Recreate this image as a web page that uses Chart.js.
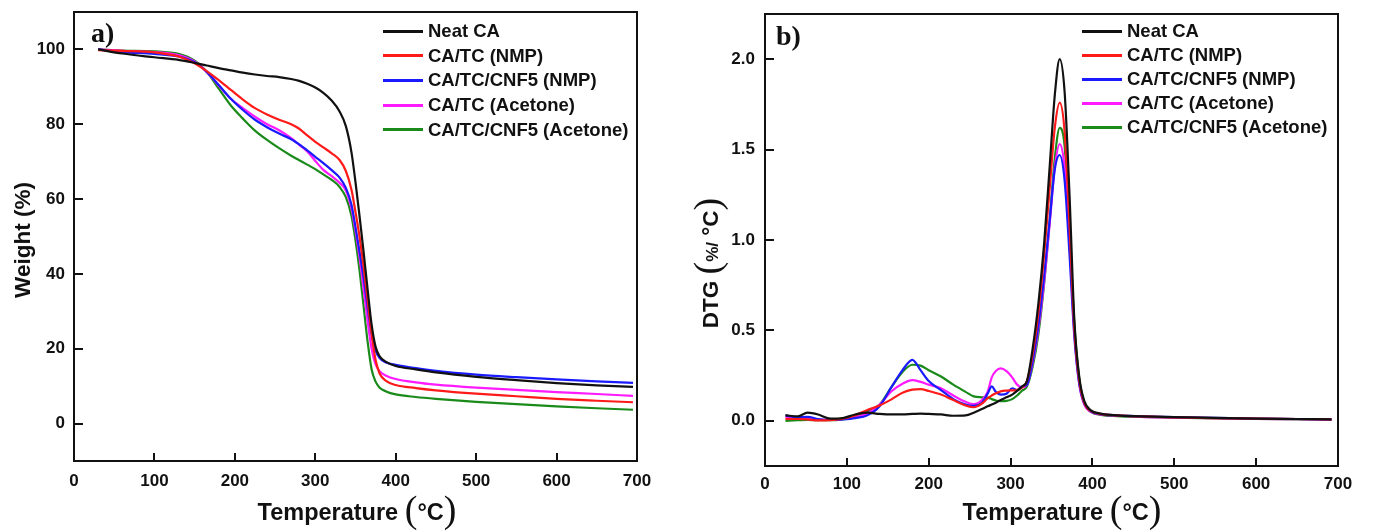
<!DOCTYPE html>
<html>
<head>
<meta charset="utf-8">
<script src="https://cdn.jsdelivr.net/npm/chart.js@4.4.1/dist/chart.umd.min.js"></script>
<style>
  body { margin: 0; background: #fff; width: 1375px; height: 532px; position: relative; overflow: hidden; font-family: 'Liberation Sans', Arial, sans-serif; color: #111; }
  canvas { position: absolute; top: 0; }
  .ttl { position: absolute; font-weight: bold; font-size: 23.5px; line-height: 30px; text-align: center; white-space: nowrap; }
  .rot { transform: rotate(-90deg); font-size: 22.5px; }
  .pr { font-family: 'Liberation Serif', serif; font-weight: normal; font-size: 38px; line-height: 0; position: relative; top: 2px; }
  .sm { font-size: 17px; }
  .pnl { position: absolute; font-family: 'Liberation Serif', serif; font-weight: bold; font-size: 28px; line-height: 28px; }
  .leg { position: absolute; font-weight: bold; font-size: 18.5px; }
  .row { position: absolute; left: 0; height: 24px; white-space: nowrap; }
  .row i { position: absolute; left: 0; top: 10.5px; width: 40px; height: 3px; }
  .row span { position: absolute; left: 45px; top: 0; line-height: 24px; }
</style>
</head>
<body>
<canvas id="tga" width="690" height="532" style="left:0"></canvas>
<canvas id="dtg" width="685" height="532" style="left:690px"></canvas>

<div class="pnl" style="left:91px;top:19px">a)</div>
<div class="pnl" style="left:776px;top:22px">b)</div>

<div class="ttl" style="left:0;width:714px;top:497px">Temperature <span class="pr">(</span>°C<span class="pr">)</span></div>
<div class="ttl" style="left:862px;width:400px;top:497px">Temperature <span class="pr">(</span>°C<span class="pr">)</span></div>
<div class="ttl rot" style="left:-77px;width:200px;top:225px">Weight (%)</div>
<div class="ttl rot" style="left:612px;width:200px;top:247px">DTG <span class="pr">(</span><span class="sm">%/</span> °C<span class="pr">)</span></div>

<div class="leg" id="legA" style="left:383px;top:19px"></div>
<div class="leg" id="legB" style="left:1082px;top:19px"></div>

<script>
// series
const seriesNames = ['Neat CA', 'CA/TC (NMP)', 'CA/TC/CNF5 (NMP)', 'CA/TC (Acetone)', 'CA/TC/CNF5 (Acetone)'];
const seriesColors = ['#111111', '#ff1a1a', '#1a1aff', '#ff1aff', '#1a8a1a'];

// a) TGA - temperature (°C) and weight (%)
const tgaTemp = [30, 60, 100, 130, 150, 165, 180, 195, 210, 225, 240, 255, 270, 280, 290, 300, 310, 320, 330, 338,
  345, 350, 355, 360, 365, 370, 375, 380, 388, 400, 425, 450, 500, 550, 600, 650, 695];
const tgaNeat = [100, 98.9, 97.9, 97.2, 96.4, 95.7, 95.0, 94.4, 93.8, 93.3, 92.9, 92.6, 92.1, 91.6, 90.8, 89.8, 88.4, 86.4, 83.5, 79.5,
  72.5, 64.5, 55.5, 46, 36, 26.5, 20.5, 18.0, 16.5, 15.4, 14.5, 13.7, 12.5, 11.6, 10.8, 10.2, 9.8];
const tgaTcNmp = [99.8, 99.6, 99.2, 98.1, 96.3, 94.2, 91.8, 89.2, 86.6, 84.3, 82.6, 81.2, 80.0, 78.8, 77.0, 75.3, 73.8, 72.3, 70.5, 67.5,
  62.5, 56.5, 50, 42, 33, 24, 17, 13.4, 11.4, 10.3, 9.5, 8.9, 8.0, 7.3, 6.6, 6.1, 5.7];
const tgaCnfNmp = [100, 99.3, 98.8, 98.1, 96.6, 94.0, 90.5, 86.8, 83.8, 81.2, 79.2, 77.5, 76.0, 74.6, 73.0, 71.3, 69.6, 67.8, 65.8, 63.0,
  58.5, 52.5, 46, 39, 31, 24, 19.5, 17.5, 16.3, 15.7, 14.8, 14.1, 13.1, 12.4, 11.8, 11.3, 10.9];
const tgaTcAce = [100, 99.6, 99.3, 98.5, 96.8, 94.0, 90.3, 86.8, 84.3, 82.0, 80.0, 78.4, 76.3, 74.5, 72.7, 70.2, 67.8, 66.2, 64.4, 62.3,
  57.5, 51.5, 44.5, 36, 27.5, 20, 15.8, 14.0, 12.8, 11.9, 11.0, 10.4, 9.6, 9.0, 8.4, 7.9, 7.4];
const tgaCnfAce = [100, 99.7, 99.5, 98.8, 97.0, 94.0, 89.5, 85.0, 81.5, 78.3, 75.8, 73.6, 71.6, 70.4, 69.2, 68.0, 66.6, 65.2, 63.3, 60.5,
  55.5, 49, 41, 31.5, 22, 14.5, 11.2, 9.6, 8.6, 7.8, 7.1, 6.6, 5.8, 5.2, 4.6, 4.1, 3.7];

// b) DTG - temperature (°C) and %/°C
const dtgTemp = [25, 40, 52, 65, 80, 95, 110, 125, 140, 155, 168, 180, 190, 200, 215, 230, 245, 255, 265, 272,
  277, 282, 288, 295, 302, 308, 314, 320, 327, 334, 341, 348, 354, 360, 366, 372, 378, 384, 390, 398,
  410, 430, 460, 500, 550, 600, 650, 692];
const dtgNeat = [.03, .025, .045, .035, .012, .015, .035, .045, .038, .035, .035, .038, .04, .038, .035, .028, .03, .045, .065, .08,
  .09, .1, .115, .13, .145, .165, .19, .22, .4, .65, .98, 1.42, 1.8, 2.0, 1.82, 1.25, .55, .24, .11, .058,
  .04, .03, .025, .02, .016, .012, .01, .008];
const dtgTcNmp = [.01, .01, .008, .002, .003, .012, .03, .06, .085, .12, .155, .172, .175, .165, .145, .115, .085, .075, .095, .125,
  .14, .152, .163, .167, .168, .17, .185, .22, .37, .6, .92, 1.3, 1.62, 1.76, 1.6, 1.08, .5, .22, .1, .055,
  .038, .03, .024, .019, .015, .012, .01, .008];
const dtgCnfNmp = [.03, .02, .022, .01, .005, .008, .015, .03, .08, .19, .28, .337, .28, .22, .17, .12, .09, .083, .1, .15,
  .19, .16, .145, .15, .18, .17, .19, .2, .33, .53, .8, 1.12, 1.39, 1.47, 1.33, .92, .46, .2, .095, .052,
  .037, .03, .025, .02, .016, .012, .01, .008];
const dtgTcAce = [.02, .015, .01, .006, .005, .01, .02, .04, .09, .165, .205, .225, .215, .2, .18, .14, .105, .092, .115, .16,
  .24, .275, .29, .275, .24, .2, .185, .2, .32, .51, .77, 1.1, 1.4, 1.53, 1.4, .98, .48, .2, .09, .05,
  .035, .028, .022, .018, .014, .011, .009, .007];
const dtgCnfAce = [0, .003, .005, .003, .003, .008, .02, .05, .09, .19, .27, .31, .305, .28, .245, .2, .16, .135, .13, .128,
  .12, .112, .108, .11, .12, .14, .166, .19, .3, .48, .76, 1.12, 1.45, 1.62, 1.52, 1.06, .53, .23, .1, .05,
  .033, .026, .021, .017, .013, .01, .008, .006];

// ticks
const xTicks = [0, 100, 200, 300, 400, 500, 600, 700];
const tgaYTicks = [0, 20, 40, 60, 80, 100];
const dtgYTicks = [0, 0.5, 1.0, 1.5, 2.0];

const tickFont = { family: "'Liberation Sans', Arial", size: 17, weight: 'bold' };

// frame + inward ticks
const frameTicks = {
  id: 'frameTicks',
  afterDraw(chart) {
    const { ctx, chartArea: a, scales } = chart;
    ctx.save();
    ctx.strokeStyle = '#111';
    ctx.lineWidth = 2;
    ctx.strokeRect(a.left, a.top, a.right - a.left, a.bottom - a.top);
    scales.x.ticks.forEach(t => {
      const px = Math.round(scales.x.getPixelForValue(t.value));
      ctx.beginPath(); ctx.moveTo(px, a.bottom); ctx.lineTo(px, a.bottom - 8); ctx.stroke();
    });
    scales.y.ticks.forEach(t => {
      const py = Math.round(scales.y.getPixelForValue(t.value));
      ctx.beginPath(); ctx.moveTo(a.left, py); ctx.lineTo(a.left + 9, py); ctx.stroke();
    });
    ctx.restore();
  }
};

function makeSets(temp, lists) {
  return lists.map((vals, i) => ({
    label: seriesNames[i],
    data: temp.map((t, k) => ({ x: t, y: vals[k] })),
    borderColor: seriesColors[i],
    borderWidth: 2.2,
    pointRadius: 0,
    cubicInterpolationMode: 'monotone',
    fill: false
  }));
}

function noPad(s) {
  s.paddingTop = 0; s.paddingBottom = 0; s.paddingLeft = 0; s.paddingRight = 0;
}

function makeChart(id, sets, yMin, yMax, yTicks, fmt, pad, yWidth, xHeight, xPad, yPad) {
  return new Chart(document.getElementById(id), {
    type: 'line',
    data: { datasets: sets },
    options: {
      responsive: false,
      animation: false,
      layout: { padding: pad },
      plugins: { legend: { display: false }, tooltip: { enabled: false } },
      scales: {
        x: {
          type: 'linear', min: 0, max: 700,
          grid: { display: false, drawTicks: false }, border: { display: false },
          ticks: { font: tickFont, color: '#111', padding: xPad, maxRotation: 0 },
          afterBuildTicks: s => { s.ticks = xTicks.map(v => ({ value: v })); },
          afterFit: s => { s.height = xHeight; noPad(s); }
        },
        y: {
          min: yMin, max: yMax,
          grid: { display: false, drawTicks: false }, border: { display: false },
          ticks: { font: tickFont, color: '#111', padding: yPad, callback: fmt },
          afterBuildTicks: s => { s.ticks = yTicks.map(v => ({ value: v })); },
          afterFit: s => { s.width = yWidth; noPad(s); }
        }
      }
    },
    plugins: [frameTicks]
  });
}

makeChart('tga', makeSets(tgaTemp, [tgaNeat, tgaTcNmp, tgaCnfNmp, tgaTcAce, tgaCnfAce]),
  -10, 110, tgaYTicks, v => String(v), { top: 12, right: 53, left: 0, bottom: 0 }, 74, 71, 10, 9);
makeChart('dtg', makeSets(dtgTemp, [dtgNeat, dtgTcNmp, dtgCnfNmp, dtgTcAce, dtgCnfAce]),
  -0.25, 2.25, dtgYTicks, v => Number(v).toFixed(1), { top: 14, right: 37, left: 0, bottom: 0 }, 75, 66, 8, 10);

// legends
function buildLegend(id, step) {
  const box = document.getElementById(id);
  seriesNames.forEach((name, i) => {
    const row = document.createElement('div');
    row.className = 'row';
    row.style.top = (i * step) + 'px';
    row.innerHTML = '<i style="background:' + seriesColors[i] + '"></i><span>' + name + '</span>';
    box.appendChild(row);
  });
}
buildLegend('legA', 24.7);
buildLegend('legB', 24);
</script>
</body>
</html>
